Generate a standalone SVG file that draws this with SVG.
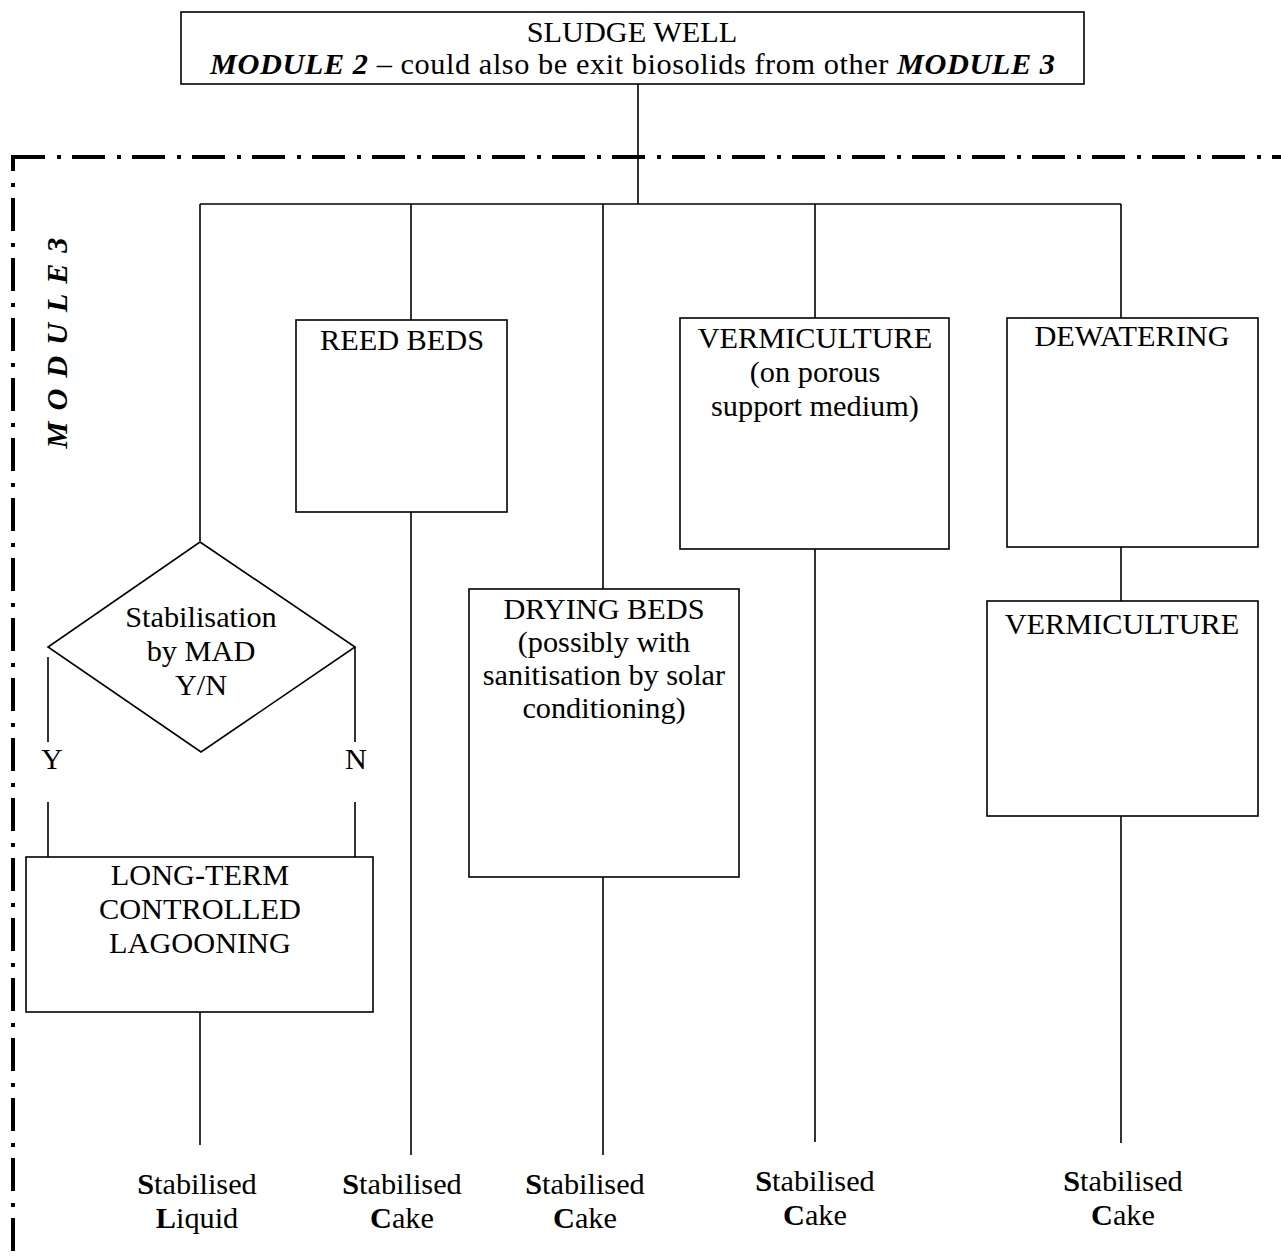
<svg xmlns="http://www.w3.org/2000/svg" width="1281" height="1258" viewBox="0 0 1281 1258">
<style>
text{font-family:"Liberation Serif","Times New Roman",serif;font-size:30.3px;fill:#000;text-anchor:middle}
text.st{text-anchor:start}
.bi{font-weight:bold;font-style:italic}
.b{font-weight:bold}
.box{fill:#fff;stroke:#000;stroke-width:1.6}
.ln{fill:none;stroke:#000;stroke-width:1.6}
.dd{fill:none;stroke:#000;stroke-width:4;stroke-dasharray:33 12 4 11}
</style>
<rect width="1281" height="1258" fill="#fff"/>
<g id="module3-boundary">
<path class="dd" d="M12,157 H1281"/>
<path class="dd" d="M13,155 V1258" stroke-dashoffset="17"/>
<text class="bi" transform="translate(67,343) rotate(-90)" textLength="211" lengthAdjust="spacing">M O D U L E 3</text>
</g>
<g id="connectors">
<path class="ln" d="M638,84 V204 M200,204 H1121"/>
<path class="ln" d="M200,204 V541"/>
<path class="ln" d="M411,204 V320 M411,512 V1155"/>
<path class="ln" d="M603,204 V589 M603,877 V1155"/>
<path class="ln" d="M815,204 V318 M815,549 V1142"/>
<path class="ln" d="M1121,204 V318 M1121,547 V601 M1121,816 V1143"/>
<path class="ln" d="M48,657 V742 M355,647 V742 M48,802 V857 M355,802 V857"/>
<path class="ln" d="M200,1012 V1145"/>
</g>
<g id="sludge-well">
<rect class="box" x="181" y="12" width="903" height="72"/>
<text x="632" y="42">SLUDGE WELL</text>
<text class="st" x="210" y="74" textLength="845" lengthAdjust="spacing"><tspan class="bi">MODULE 2</tspan> – could also be exit biosolids from other <tspan class="bi">MODULE 3</tspan></text>
</g>
<g id="decision-mad">
<polygon class="box" points="200,542 355,647 201,752 48,647"/>
<text x="201" y="627">Stabilisation</text>
<text x="201" y="661">by MAD</text>
<text x="201" y="695">Y/N</text>
<text x="52" y="769">Y</text>
<text x="356" y="769">N</text>
</g>
<g id="lagooning">
<rect class="box" x="26" y="857" width="347" height="155"/>
<text x="200" y="885">LONG-TERM</text>
<text x="200" y="919">CONTROLLED</text>
<text x="200" y="953">LAGOONING</text>
</g>
<g id="reed-beds">
<rect class="box" x="296" y="320" width="211" height="192"/>
<text x="402" y="350">REED BEDS</text>
</g>
<g id="drying-beds">
<rect class="box" x="469" y="589" width="270" height="288"/>
<text x="604" y="619">DRYING BEDS</text>
<text x="604" y="652">(possibly with</text>
<text x="604" y="685">sanitisation by solar</text>
<text x="604" y="718">conditioning)</text>
</g>
<g id="vermiculture-1">
<rect class="box" x="680" y="318" width="269" height="231"/>
<text x="815" y="348">VERMICULTURE</text>
<text x="815" y="382">(on porous</text>
<text x="815" y="416">support medium)</text>
</g>
<g id="dewatering">
<rect class="box" x="1007" y="318" width="251" height="229"/>
<text x="1132" y="346">DEWATERING</text>
</g>
<g id="vermiculture-2">
<rect class="box" x="987" y="601" width="271" height="215"/>
<text x="1122" y="634">VERMICULTURE</text>
</g>
<g id="outputs">
<text x="197" y="1194"><tspan class="b">S</tspan>tabilised</text>
<text x="197" y="1228"><tspan class="b">L</tspan>iquid</text>
<text x="402" y="1194"><tspan class="b">S</tspan>tabilised</text>
<text x="402" y="1228"><tspan class="b">C</tspan>ake</text>
<text x="585" y="1194"><tspan class="b">S</tspan>tabilised</text>
<text x="585" y="1228"><tspan class="b">C</tspan>ake</text>
<text x="815" y="1191"><tspan class="b">S</tspan>tabilised</text>
<text x="815" y="1225"><tspan class="b">C</tspan>ake</text>
<text x="1123" y="1191"><tspan class="b">S</tspan>tabilised</text>
<text x="1123" y="1225"><tspan class="b">C</tspan>ake</text>
</g>
</svg>
